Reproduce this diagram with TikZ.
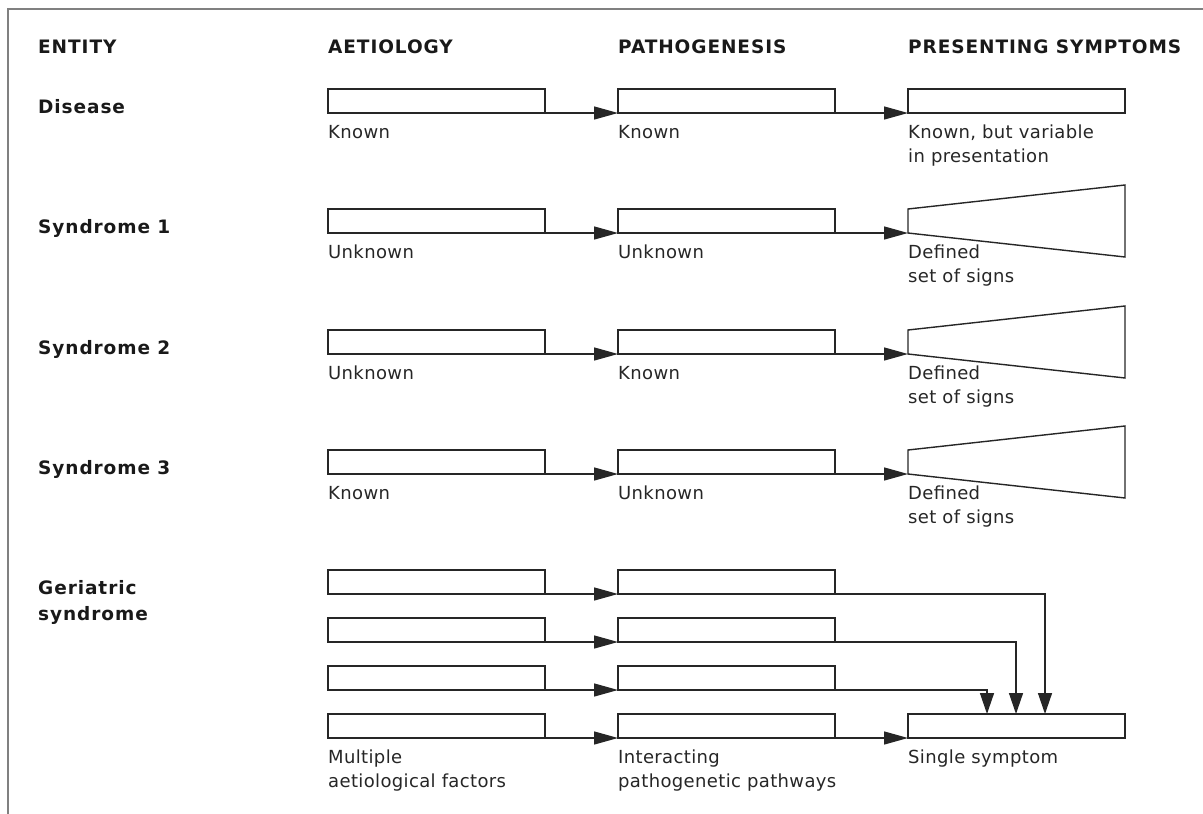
\documentclass[tikz,border=0pt]{standalone}
\usepackage{fontspec}
\setmainfont[LetterSpace=2]{DejaVu Sans}
\newfontfamily\headfont[LetterSpace=5]{DejaVu Sans}
\usetikzlibrary{arrows.meta}

\begin{document}
\begin{tikzpicture}[x=1pt, y=-1pt,
	box/.style={draw=black!85, line width=1.4pt, anchor=north west, inner sep=0pt, outer sep=0pt, minimum width=217pt, minimum height=24pt},
	lbl/.style={anchor=base west, inner sep=0pt, align=left, text=black!85, font=\fontsize{18}{24}\selectfont},
	head/.style={anchor=base west, inner sep=0pt, align=left, text=black!90, font=\fontsize{18.5}{26}\headfont\bfseries},
	flow/.style={draw=black!85, line width=1.4pt, -{Triangle[length=24pt, width=13pt]}},
	flowdown/.style={draw=black!85, line width=1.4pt, -{Triangle[length=21pt, width=14pt]}},
	trap/.style={draw=black!85, line width=1.4pt, line join=miter}]
	\useasboundingbox (0,0) rectangle (1203,814);
	
	% Рамка
	\draw[gray, line width=1.5pt] (8,814) -- (8,9) -- (1203,9);
	
	% Заголовки столбцов
	\node[head] (hEnt) at (38,53) {ENTITY};
	\node[head] (hAet) at (328,53) {AETIOLOGY};
	\node[head] (hPat) at (618,53) {PATHOGENESIS};
	\node[head] (hSym) at (908,53) {PRESENTING SYMPTOMS};
	
	% Подписи строк (base -- по последней строке)
	\node[head] (rDis) at (38,113) {Disease};
	\node[head] (rSyn1) at (38,233) {Syndrome 1};
	\node[head] (rSyn2) at (38,354) {Syndrome 2};
	\node[head] (rSyn3) at (38,474) {Syndrome 3};
	\node[head] (rGer) at (38,620) {Geriatric\\syndrome};
	
	% Disease
	\node[box] (dA) at (328,89) {};
	\node[box] (dP) at (618,89) {};
	\node[box] (dS) at (908,89) {};
	\draw[flow] (dA.south east) -- (dP.south west);
	\draw[flow] (dP.south east) -- (dS.south west);
	\node[lbl] (dAt) at (328,138) {Known};
	\node[lbl] (dPt) at (618,138) {Known};
	\node[lbl] (dSt) at (908,162) {Known, but variable\\in presentation};
	
	% Syndrome 1
	\node[box] (aA) at (328,209) {};
	\node[box] (aP) at (618,209) {};
	\coordinate (aS1) at (908,209);
	\coordinate (aS2) at (1125,185);
	\coordinate (aS3) at (1125,257);
	\coordinate (aS4) at (908,233);
	\draw[trap] (aS1) -- (aS2) -- (aS3) -- (aS4) -- cycle;
	\draw[flow] (aA.south east) -- (aP.south west);
	\draw[flow] (aP.south east) -- (aS4);
	\node[lbl] (aAt) at (328,258) {Unknown};
	\node[lbl] (aPt) at (618,258) {Unknown};
	\node[lbl] (aSt) at (908,282) {Defined\\set of signs};
	
	% Syndrome 2
	\node[box] (bA) at (328,330) {};
	\node[box] (bP) at (618,330) {};
	\coordinate (bS1) at (908,330);
	\coordinate (bS2) at (1125,306);
	\coordinate (bS3) at (1125,378);
	\coordinate (bS4) at (908,354);
	\draw[trap] (bS1) -- (bS2) -- (bS3) -- (bS4) -- cycle;
	\draw[flow] (bA.south east) -- (bP.south west);
	\draw[flow] (bP.south east) -- (bS4);
	\node[lbl] (bAt) at (328,379) {Unknown};
	\node[lbl] (bPt) at (618,379) {Known};
	\node[lbl] (bSt) at (908,403) {Defined\\set of signs};
	
	% Syndrome 3
	\node[box] (cA) at (328,450) {};
	\node[box] (cP) at (618,450) {};
	\coordinate (cS1) at (908,450);
	\coordinate (cS2) at (1125,426);
	\coordinate (cS3) at (1125,498);
	\coordinate (cS4) at (908,474);
	\draw[trap] (cS1) -- (cS2) -- (cS3) -- (cS4) -- cycle;
	\draw[flow] (cA.south east) -- (cP.south west);
	\draw[flow] (cP.south east) -- (cS4);
	\node[lbl] (cAt) at (328,499) {Known};
	\node[lbl] (cPt) at (618,499) {Unknown};
	\node[lbl] (cSt) at (908,523) {Defined\\set of signs};
	
	% Geriatric syndrome
	\node[box] (gA1) at (328,570) {};
	\node[box] (gP1) at (618,570) {};
	\node[box] (gA2) at (328,618) {};
	\node[box] (gP2) at (618,618) {};
	\node[box] (gA3) at (328,666) {};
	\node[box] (gP3) at (618,666) {};
	\node[box] (gA4) at (328,714) {};
	\node[box] (gP4) at (618,714) {};
	\node[box] (gS) at (908,714) {};
	\coordinate (gIn1) at (1045,714);
	\coordinate (gIn2) at (1016,714);
	\coordinate (gIn3) at (987,714);
	\draw[flow] (gA1.south east) -- (gP1.south west);
	\draw[flow] (gA2.south east) -- (gP2.south west);
	\draw[flow] (gA3.south east) -- (gP3.south west);
	\draw[flow] (gA4.south east) -- (gP4.south west);
	\draw[flow] (gP4.south east) -- (gS.south west);
	\draw[flowdown] (gP1.south east) -| (gIn1);
	\draw[flowdown] (gP2.south east) -| (gIn2);
	\draw[flowdown] (gP3.south east) -| (gIn3);
	\node[lbl] (gAt) at (328,787) {Multiple\\aetiological factors};
	\node[lbl] (gPt) at (618,787) {Interacting\\pathogenetic pathways};
	\node[lbl] (gSt) at (908,763) {Single symptom};
\end{tikzpicture}
\end{document}
